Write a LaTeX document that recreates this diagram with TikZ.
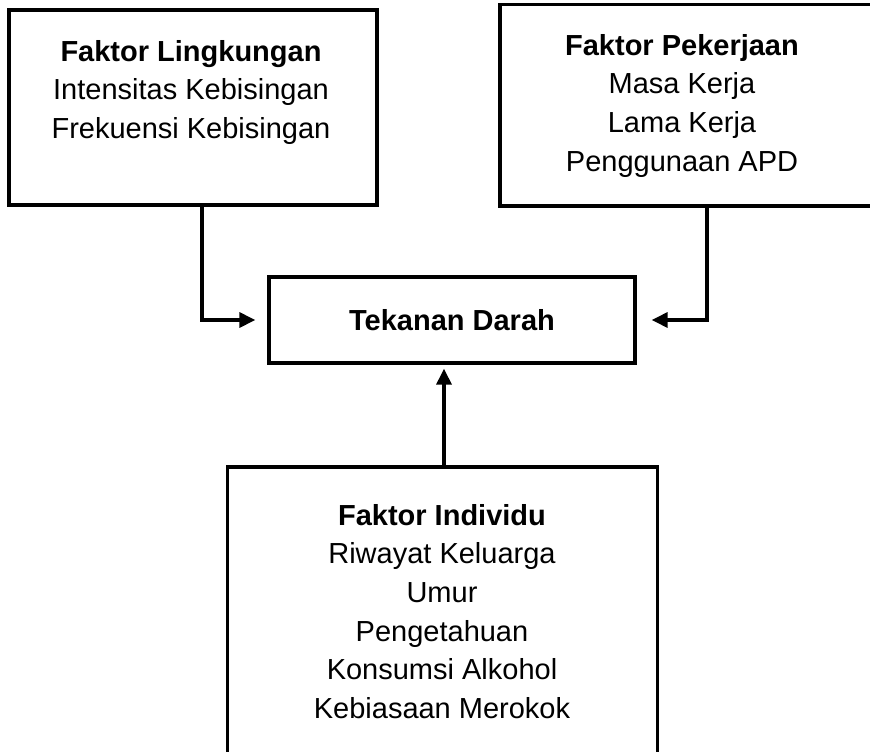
\documentclass[tikz,border=0pt]{standalone}
\usepackage{fontspec}
\setmainfont{Liberation Sans}
\usetikzlibrary{positioning,arrows.meta,calc}

\begin{document}
\begin{tikzpicture}[
    x=1pt, y=-1pt,
    every node/.style={font=\fontsize{29}{38.6}\selectfont, inner sep=0pt},
    factorbox/.style={draw, line width=3.3pt, rectangle},
    factortext/.style={align=center, anchor=north},
    arrowline/.style={line width=3.3pt, -{Triangle[length=16pt, width=15pt]}},
]
\clip (0,0) rectangle (870,752);

% kotak faktor
\node[factorbox, minimum width=368pt, minimum height=195pt] (lingkungan) at (193,107.5) {};
\node[factorbox, minimum width=380pt, minimum height=201.5pt] (pekerjaan) at (690,105.25) {};
\node[factorbox, minimum width=366pt, minimum height=86pt] (tekanan) at (452,320) {\textbf{Tekanan Darah}};
\node[factorbox, minimum width=430pt, minimum height=303pt] (individu) at (442.5,618.5) {};

% isi kotak
\node[factortext] (lingkunganText) at (191,40) {\textbf{Faktor Lingkungan}\\Intensitas Kebisingan\\Frekuensi Kebisingan};
\node[factortext] (pekerjaanText) at (682,34) {\textbf{Faktor Pekerjaan}\\Masa Kerja\\Lama Kerja\\Penggunaan APD};
\node[factortext] (individuText) at (442,504) {\textbf{Faktor Individu}\\Riwayat Keluarga\\Umur\\Pengetahuan\\Konsumsi Alkohol\\Kebiasaan Merokok};

% panah
\coordinate (upTip) at ([yshift=-4pt]tekanan.south -| individu.north);
\draw[arrowline] ([xshift=9pt]lingkungan.south) |- ([xshift=-12pt]tekanan.west);
\draw[arrowline] ([xshift=17pt]pekerjaan.south) |- ([xshift=15pt]tekanan.east);
\draw[arrowline] ([xshift=1.5pt]individu.north) -- ([xshift=1.5pt]upTip);
\end{tikzpicture}
\end{document}
